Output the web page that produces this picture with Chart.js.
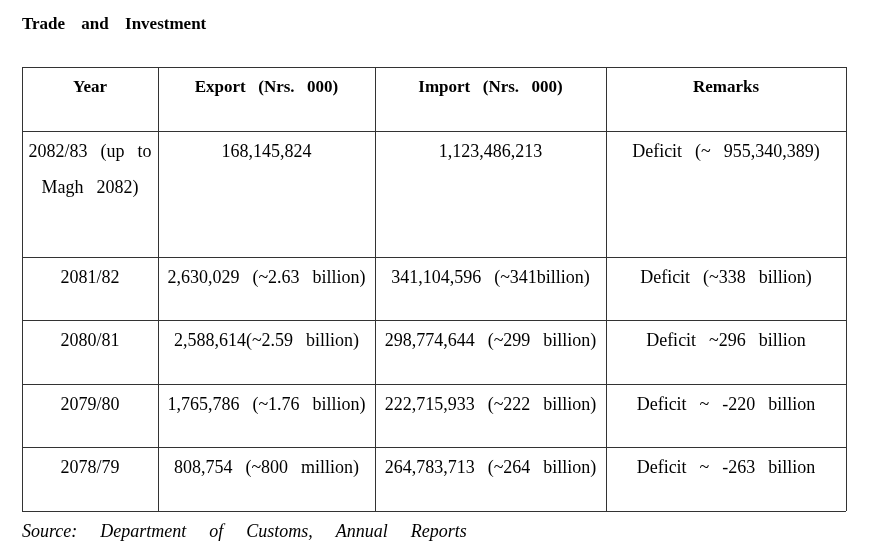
<!DOCTYPE html>
<html><head><meta charset="utf-8">
<script src="https://cdn.jsdelivr.net/npm/chart.js@4.4.0/dist/chart.umd.min.js"></script>
<style>html,body{margin:0;padding:0;background:#fff}</style>
</head><body>
<canvas id="c" width="876" height="546"></canvas>
<script>
const headers = ['Year', 'Export  (Nrs.  000)', 'Import  (Nrs.  000)', 'Remarks'];
const years = [['2082/83  (up  to', 'Magh  2082)'], ['2081/82'], ['2080/81'], ['2079/80'], ['2078/79']];
const exports = ['168,145,824', '2,630,029  (~2.63  billion)', '2,588,614(~2.59  billion)', '1,765,786  (~1.76  billion)', '808,754  (~800  million)'];
const imports = ['1,123,486,213', '341,104,596  (~341billion)', '298,774,644  (~299  billion)', '222,715,933  (~222  billion)', '264,783,713  (~264  billion)'];
const remarks = ['Deficit  (~  955,340,389)', 'Deficit  (~338  billion)', 'Deficit  ~296  billion', 'Deficit  ~  -220  billion', 'Deficit  ~  -263  billion'];
const colEdges = [22, 158, 375, 606, 846];
const rowEdges = [67, 131, 257, 320, 384, 447, 511];

const tablePlugin = {
  id: 'table',
  afterDraw(chart) {
    const ctx = chart.ctx, xs = chart.scales.x, ys = chart.scales.y;
    const X = v => xs.getPixelForValue(v), Y = v => ys.getPixelForValue(v);
    ctx.save();
    ctx.fillStyle = '#000';
    ctx.textBaseline = 'middle';
    ctx.font = 'bold 17px "Liberation Serif"';
    ctx.wordSpacing = '12px';
    ctx.textAlign = 'left';
    ctx.fillText('Trade and Investment', X(22), Y(25));
    ctx.strokeStyle = '#333';
    ctx.lineWidth = 1;
    rowEdges.forEach(r => { ctx.beginPath(); ctx.moveTo(X(colEdges[0]), Y(r) + 0.5); ctx.lineTo(X(colEdges[4]), Y(r) + 0.5); ctx.stroke(); });
    colEdges.forEach(c => { ctx.beginPath(); ctx.moveTo(X(c) + 0.5, Y(rowEdges[0])); ctx.lineTo(X(c) + 0.5, Y(rowEdges[6])); ctx.stroke(); });
    ctx.textAlign = 'center';
    ctx.wordSpacing = '2px';
    const cx = i => X((colEdges[i] + colEdges[i + 1]) / 2);
    headers.forEach((h, i) => { ctx.font = 'bold 17px "Liberation Serif"'; ctx.fillText(h, cx(i), Y(rowEdges[0] + 21)); });
    ctx.font = '18px "Liberation Serif"';
    for (let r = 0; r < years.length; r++) {
      const ty = rowEdges[r + 1] + 21;
      years[r].forEach((l, k) => ctx.fillText(l, cx(0), Y(ty + k * 36)));
      ctx.fillText(exports[r], cx(1), Y(ty));
      ctx.fillText(imports[r], cx(2), Y(ty));
      ctx.fillText(remarks[r], cx(3), Y(ty));
    }
    ctx.textAlign = 'left';
    ctx.font = 'italic 18px "Liberation Serif"';
    ctx.wordSpacing = '7px';
    ctx.fillText('Source:  Department  of  Customs,  Annual  Reports', X(22), Y(532));
    ctx.restore();
  }
};

new Chart(document.getElementById('c'), {
  type: 'scatter',
  data: { datasets: [{ data: [] }] },
  options: {
    responsive: false, animation: false,
    layout: { padding: 0 },
    plugins: { legend: { display: false }, tooltip: { enabled: false } },
    scales: {
      x: { type: 'linear', min: 0, max: 876, display: false },
      y: { type: 'linear', min: 0, max: 546, reverse: true, display: false }
    }
  },
  plugins: [tablePlugin]
});
</script>
</body></html>
